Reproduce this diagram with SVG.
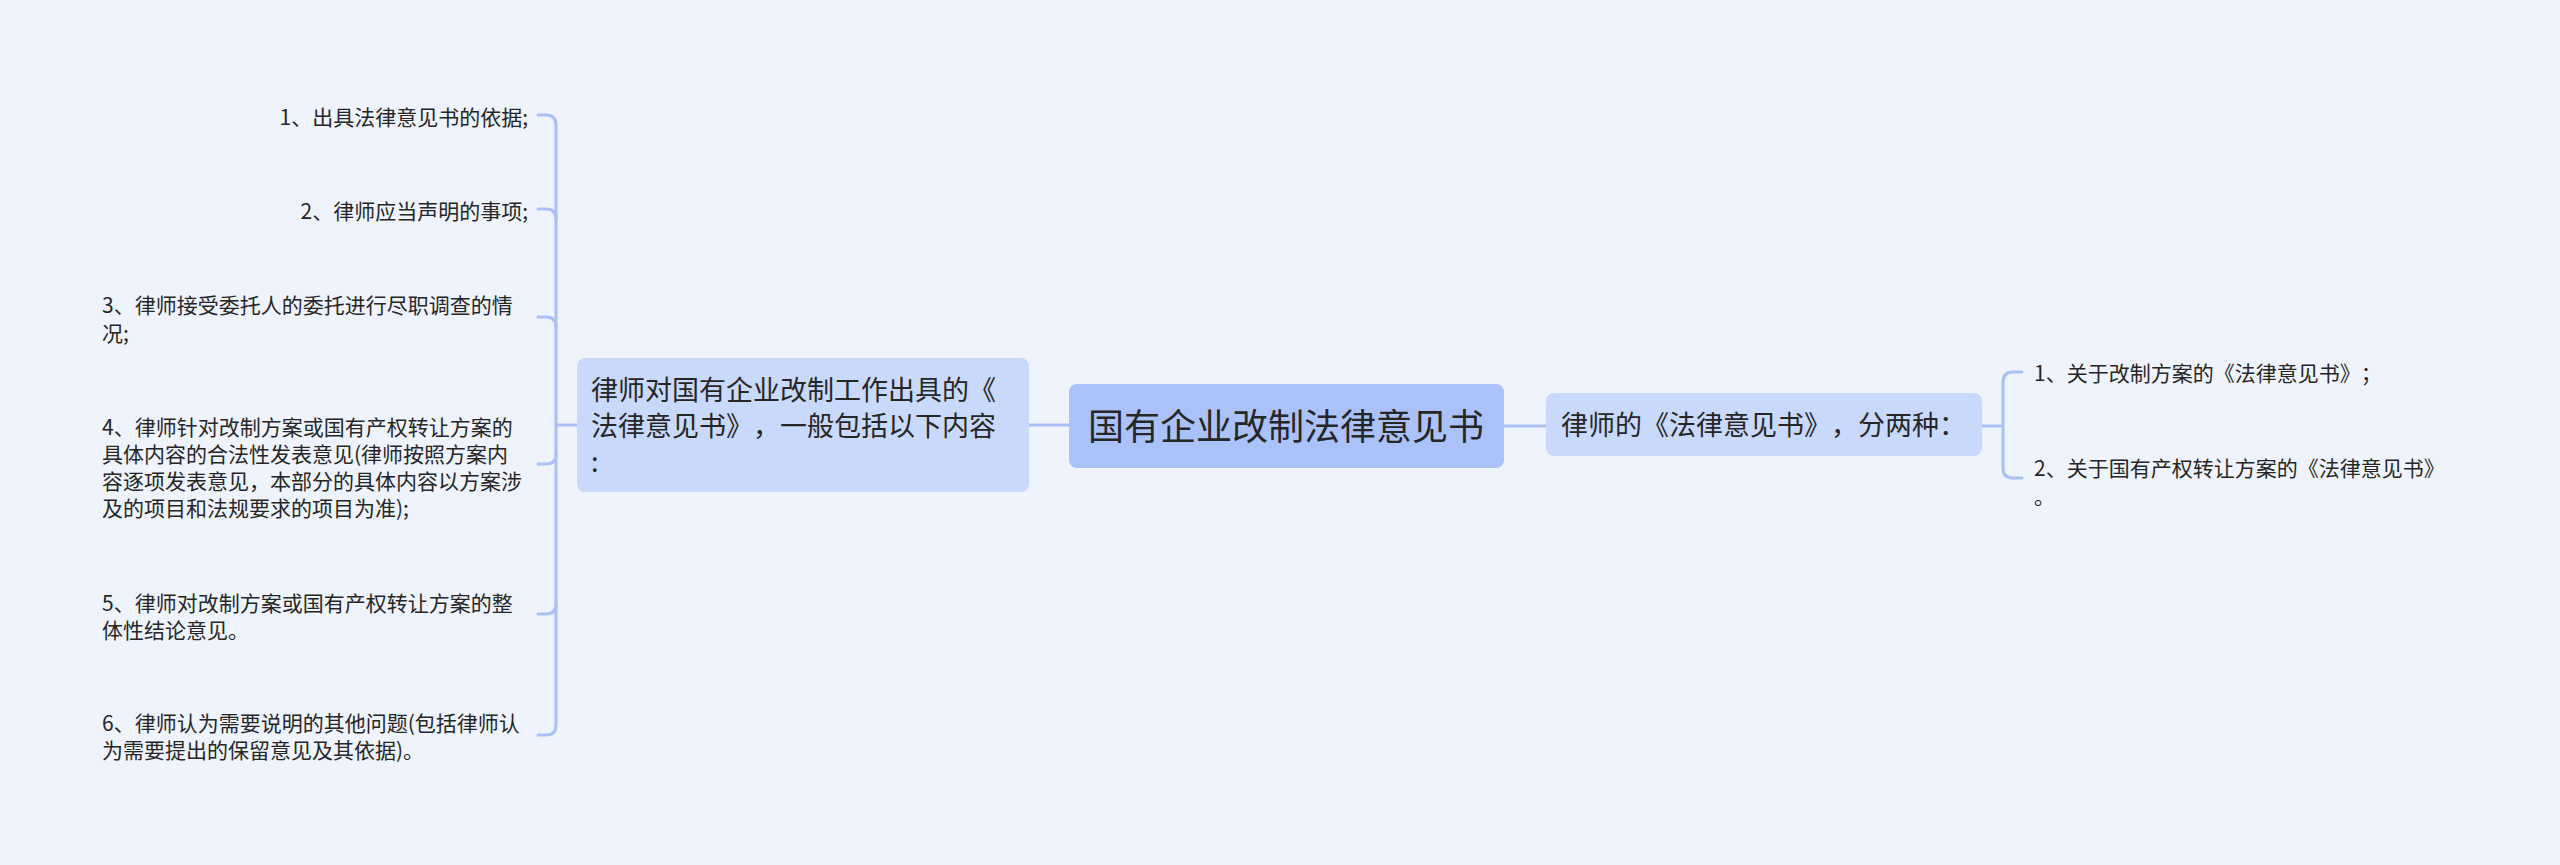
<svg xmlns="http://www.w3.org/2000/svg" width="2560" height="865" viewBox="0 0 2560 865">
<style>
text{font-family:"Noto Sans CJK SC","Noto Sans",sans-serif;fill:#262626;text-spacing-trim:space-all}
.t36{font-size:36px}
.t27{font-size:27px}
.t21{font-size:21px}
.main{fill:#aac2f9}
.sub{fill:#c9d9fb}
.ln{fill:none;stroke:#a9c1f4;stroke-width:3;stroke-linecap:round}
</style>
<rect x="0" y="0" width="2560" height="865" fill="#eef3fc"/>
<g id="connectors">
<path class="ln" d="M1029,425 H1069"/>
<path class="ln" d="M1504,426 H1546"/>
<path class="ln" d="M556,425 H577"/>
<path class="ln" d="M538,115 H546 Q556,115 556,125 V725 Q556,735 546,735 H538"/>
<path class="ln" d="M538,209 H546 Q556,209 556,219"/>
<path class="ln" d="M538,317 H546 Q556,317 556,327"/>
<path class="ln" d="M538,464 H546 Q556,464 556,454"/>
<path class="ln" d="M538,614 H546 Q556,614 556,604"/>
<path class="ln" d="M1982,426 H2003"/>
<path class="ln" d="M2022,372 H2013 Q2003,372 2003,382 V468 Q2003,478 2013,478 H2022"/>
</g>
<g id="root">
<rect class="main" x="1069" y="384" width="435" height="84" rx="8"/>
<text class="t36" x="1088" y="440">国有企业改制法律意见书</text>
</g>
<g id="left-main">
<rect class="sub" x="577" y="358" width="452" height="134" rx="8"/>
<text class="t27" x="591"><tspan x="591" y="400">律师对国有企业改制工作出具的《</tspan><tspan x="591" y="436">法律意见书》，一般包括以下内容</tspan><tspan x="591" y="472">:</tspan></text>
</g>
<g id="right-main">
<rect class="sub" x="1546" y="393" width="436" height="63" rx="8"/>
<text class="t27" x="1561" y="435">律师的《法律意见书》，分两种：</text>
</g>
<g id="l1">
<text class="t21" x="528" y="125" text-anchor="end">1、出具法律意见书的依据;</text>
</g>
<g id="l2">
<text class="t21" x="528" y="219" text-anchor="end">2、律师应当声明的事项;</text>
</g>
<g id="l3">
<text class="t21"><tspan x="102" y="313">3、律师接受委托人的委托进行尽职调查的情</tspan><tspan x="102" y="341">况;</tspan></text>
</g>
<g id="l4">
<text class="t21"><tspan x="102" y="435">4、律师针对改制方案或国有产权转让方案的</tspan><tspan x="102" y="462">具体内容的合法性发表意见(律师按照方案内</tspan><tspan x="102" y="489">容逐项发表意见，本部分的具体内容以方案涉</tspan><tspan x="102" y="516">及的项目和法规要求的项目为准);</tspan></text>
</g>
<g id="l5">
<text class="t21"><tspan x="102" y="611">5、律师对改制方案或国有产权转让方案的整</tspan><tspan x="102" y="638">体性结论意见。</tspan></text>
</g>
<g id="l6">
<text class="t21"><tspan x="102" y="731">6、律师认为需要说明的其他问题(包括律师认</tspan><tspan x="102" y="758">为需要提出的保留意见及其依据)。</tspan></text>
</g>
<g id="r1">
<text class="t21" x="2034" y="381">1、关于改制方案的《法律意见书》；</text>
</g>
<g id="r2">
<text class="t21"><tspan x="2034" y="476">2、关于国有产权转让方案的《法律意见书》</tspan><tspan x="2034" y="504">。</tspan></text>
</g>
</svg>
